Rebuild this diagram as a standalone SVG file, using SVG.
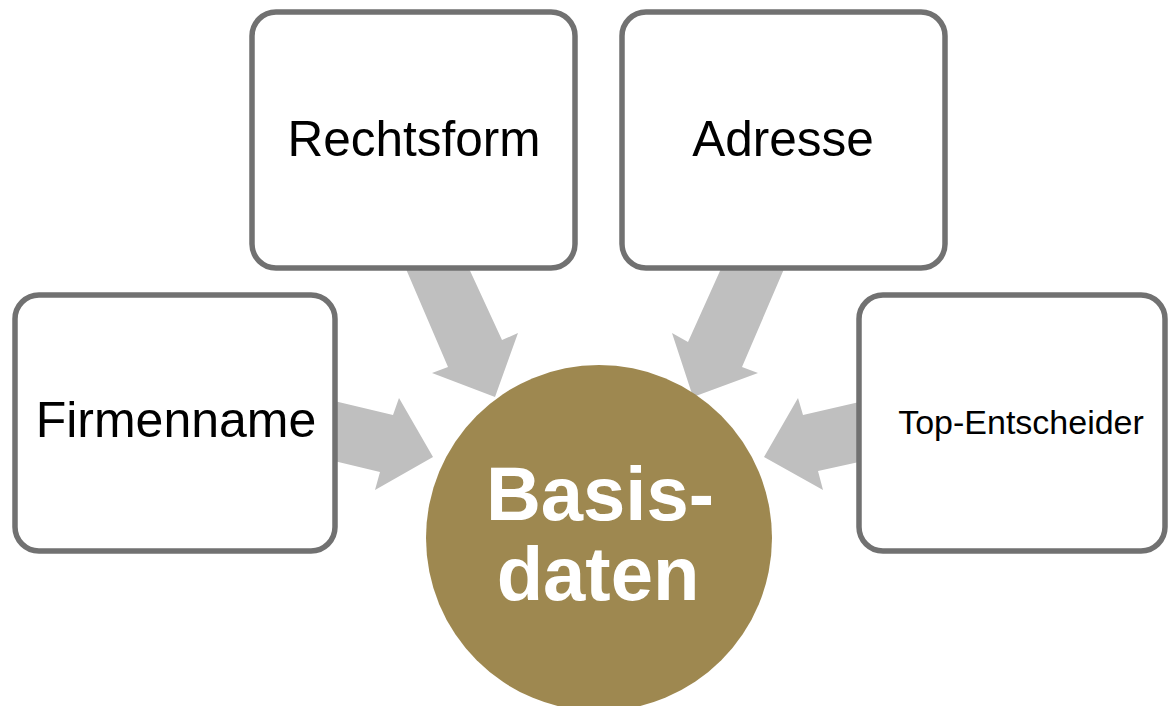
<svg xmlns="http://www.w3.org/2000/svg" width="1168" height="706" viewBox="0 0 1168 706">
<style>
.box{fill:#fff;stroke:#717171;stroke-width:5.5}
.lbl{font-family:"Liberation Sans",Arial,sans-serif;fill:#000;text-anchor:middle}
.arr{fill:#BFBFBF}
.ctr{font-family:"Liberation Sans",Arial,sans-serif;font-weight:bold;fill:#fff;text-anchor:middle;font-size:76px}
</style>
<rect width="1168" height="706" fill="#fff"/>
<g id="connectors">
<polygon class="arr" points="330,400 393,415 399,398 433,457 375,490 380,472 330,460"/>
<polygon class="arr" points="403,262 466,262 502,340 518,333 495,397 432,373 448,367"/>
<polygon class="arr" points="724,262 787,262 742,367 758,373 693,397 672,333 688,342"/>
<polygon class="arr" points="868,400 803,415 798,398 764,457 823,490 818,471 868,460"/>
</g>
<g id="node-firmenname">
<rect class="box" x="15" y="295" width="320" height="256" rx="24"/>
<text class="lbl" x="176" y="437" font-size="50">Firmenname</text>
</g>
<g id="node-rechtsform">
<rect class="box" x="252" y="12" width="323" height="256" rx="24"/>
<text class="lbl" x="414" y="156" font-size="49.5">Rechtsform</text>
</g>
<g id="node-adresse">
<rect class="box" x="622" y="12" width="323" height="256" rx="24"/>
<text class="lbl" x="783" y="156" font-size="49.5">Adresse</text>
</g>
<g id="node-top-entscheider">
<rect class="box" x="859" y="295" width="306" height="256" rx="24"/>
<text class="lbl" x="1021" y="434" font-size="34">Top-Entscheider</text>
</g>
<g id="node-basisdaten">
<circle cx="599" cy="538" r="173" fill="#9E8850"/>
<text class="ctr" x="600" y="520">Basis-</text>
<text class="ctr" x="598" y="600">daten</text>
</g>
</svg>
